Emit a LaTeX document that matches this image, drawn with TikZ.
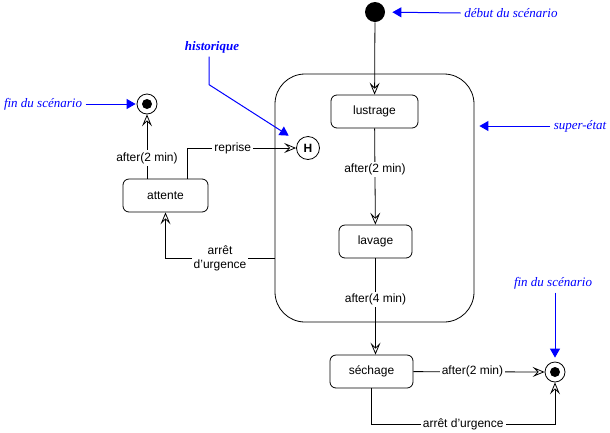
\documentclass[tikz,border=0pt]{standalone}
\usepackage{fontspec}
\setmainfont{Liberation Sans}
\newfontfamily\notefont{Liberation Serif}
\usetikzlibrary{positioning,arrows.meta}
\definecolor{noteblue}{RGB}{0,0,255}

\begin{document}
\begin{tikzpicture}[
  x=1pt,y=-1pt,line width=0.8pt,
  font=\fontsize{12}{14}\selectfont,
  state/.style={draw,rounded corners=6pt,minimum height=33pt,inner sep=0pt},
  superstate/.style={draw,rounded corners=30pt,minimum width=199pt,minimum height=248pt},
  initial/.style={circle,fill,minimum size=20pt,inner sep=0pt},
  final/.style={circle,draw,minimum size=20pt,inner sep=0pt,
                path picture={\fill (path picture bounding box.center) circle (5pt);}},
  histo/.style={circle,draw,minimum size=23pt,inner sep=0pt,font=\fontsize{12}{14}\selectfont\bfseries},
  lbl/.style={fill=white,inner sep=2pt,align=center},
  note/.style={font=\notefont\itshape\fontsize{13}{15}\selectfont,text=noteblue},
  tr/.style={-{Stealth[open,length=12pt,width=10pt,inset=5pt]}},
  na/.style={-{Triangle[length=9pt,width=10pt]},draw=noteblue,line width=1pt}
]
\useasboundingbox (0,0) rectangle (610,432);

\node[initial] (debut) at (375,12) {};
\node[superstate] (sup) at (374.5,198) {};
\node[state,minimum width=87pt] (lustrage) at (374.5,111.5) {lustrage};
\node[state,minimum width=73pt] (lavage) at (375.5,241.5) {lavage};
\node[state,minimum width=83pt] (sechage) at (371.5,371.5) {séchage};
\node[final] (finB) at (555,372) {};

\node[state,minimum width=85pt] (attente) at (165.5,195.5) {attente};
\node[final] (finA) at (147,104) {};
\node[histo] (hist) at (308,148) {H};

\draw[tr] (debut) -- (lustrage);
\draw[tr] (lustrage) -- node[lbl,pos=0.43]{after(2 min)} (lavage);
\draw[tr] (lavage.south) -- node[lbl,pos=0.43]{after(4 min)} (lavage.south |- sechage.north);
\draw[tr] (sechage) -- node[lbl,pos=0.45]{after(2 min)} (finB);
\draw[tr] (sechage.south) -- ++(0,36) -| node[lbl,pos=0.25]{arrêt d'urgence} (finB.south);

\draw[tr] (attente.north -| finA) -- node[lbl,pos=0.32]{after(2 min)} (finA);
\draw[tr] ([xshift=21.5pt]attente.north) |- node[lbl,pos=0.71]{reprise} (hist);
\draw[tr] ([yshift=-60pt]sup.west) -| node[lbl,pos=0.25]{arrêt\\d'urgence} (attente.south);

\node[note] (nDebut) at (511,13) {début du scénario};
\node[note] (nSuper) at (580,126) {super-état};
\node[note] (nFinA) at (43,104) {fin du scénario};
\node[note] (nFinB) at (553,283) {fin du scénario};
\node[note,font=\notefont\itshape\bfseries\fontsize{13}{15}\selectfont] (nHist) at (212,47) {historique};

\draw[na,shorten >=7pt] (nDebut.west) -- (debut);
\draw[na,shorten >=5pt] (nSuper.west) -- (sup.east |- nSuper);
\draw[na,shorten >=1pt] (nFinA.east) -- (finA);
\draw[na,shorten >=4pt] (nFinB.south -| finB) -- (finB);
\draw[na,shorten >=11pt] ([xshift=-3pt]nHist.south) -- ++(0,28) -- (hist);
\end{tikzpicture}
\end{document}
